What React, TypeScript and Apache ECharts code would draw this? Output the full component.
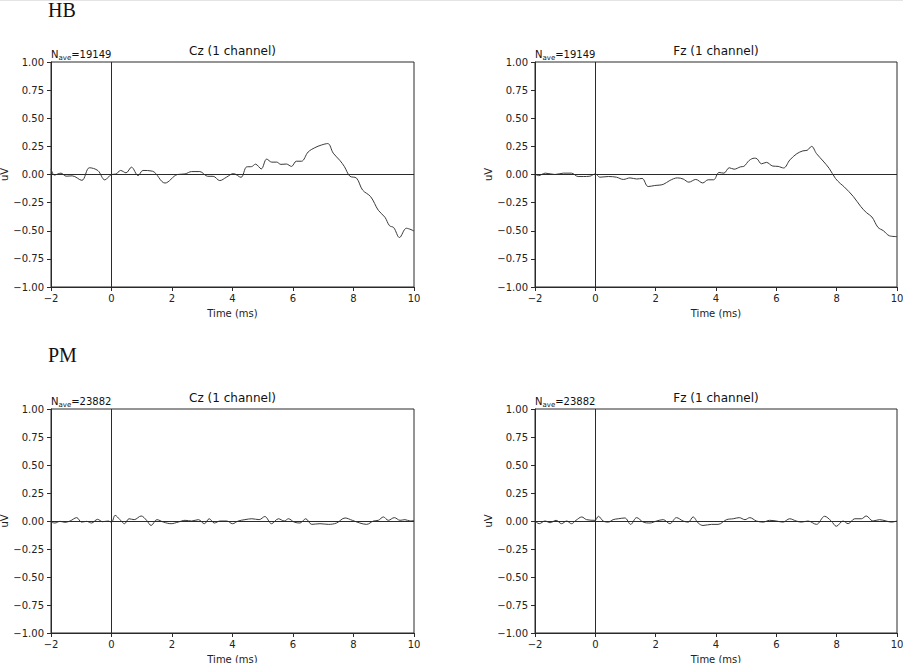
import React, { useEffect, useRef } from "react";
import * as echarts from "echarts";

const FONT = "DejaVu Sans";
const SERIF = "Liberation Serif";

const xMin = -2;
const xMax = 10;
const yMin = -1;
const yMax = 1;

const groupLabels = ["HB", "PM"];
const channelTitles = ["Cz (1 channel)", "Fz (1 channel)"];
const naveCounts = ["19149", "23882"];

const hbCz: [number, number][] = [
  [-2, 0.05], [-1.89, -0.005], [-1.67, 0.012], [-1.5, -0.015], [-1.3, -0.012], [-0.98, -0.052],
  [-0.73, 0.06], [-0.45, 0.035], [-0.22, -0.048], [0, 0.0], [0.15, 0.004], [0.3, 0.036],
  [0.48, 0.015], [0.66, 0.065], [0.88, -0.01], [1.04, 0.036], [1.35, 0.03], [1.77, -0.076],
  [2.18, 0.0], [2.43, 0.005], [2.65, 0.026], [2.92, 0.026], [3.18, -0.016], [3.36, -0.016],
  [3.58, -0.054], [3.8, -0.024], [4.03, 0.008], [4.28, -0.025], [4.47, 0.068], [4.63, 0.07],
  [4.76, 0.092], [4.95, 0.05], [5.13, 0.137], [5.3, 0.11], [5.46, 0.11], [5.6, 0.09],
  [5.78, 0.093], [5.95, 0.072], [6.11, 0.118], [6.28, 0.118], [6.5, 0.2], [6.72, 0.238],
  [6.94, 0.262], [7.15, 0.275], [7.33, 0.19], [7.55, 0.125], [7.7, 0.07], [7.88, -0.015],
  [8.1, -0.032], [8.3, -0.138], [8.57, -0.198], [8.82, -0.318], [9.04, -0.38], [9.19, -0.455],
  [9.33, -0.472], [9.52, -0.56], [9.75, -0.478], [10, -0.502],
];

const hbFz: [number, number][] = [
  [-2, 0.005], [-1.88, -0.01], [-1.66, 0.012], [-1.34, 0.0], [-1.06, 0.012], [-0.79, 0.012],
  [-0.57, -0.018], [-0.4, -0.018], [-0.18, -0.015], [0, 0.005], [0.15, -0.024], [0.43, -0.018],
  [0.7, -0.024], [0.93, -0.044], [1.15, -0.03], [1.37, -0.04], [1.55, -0.035], [1.75, -0.107],
  [1.97, -0.098], [2.25, -0.088], [2.47, -0.053], [2.72, -0.03], [2.91, -0.04], [3.1, -0.068],
  [3.33, -0.044], [3.56, -0.075], [3.74, -0.047], [3.92, -0.047], [4.1, 0.018], [4.26, 0.012],
  [4.44, 0.06], [4.6, 0.047], [4.81, 0.068], [4.92, 0.072], [5.1, 0.125], [5.27, 0.145],
  [5.36, 0.14], [5.51, 0.095], [5.67, 0.108], [5.88, 0.075], [6.06, 0.072], [6.24, 0.058],
  [6.45, 0.13], [6.68, 0.185], [6.88, 0.21], [7.02, 0.215], [7.17, 0.25], [7.33, 0.186],
  [7.55, 0.12], [7.75, 0.055], [7.96, -0.035], [8.12, -0.08], [8.25, -0.11], [8.55, -0.195],
  [8.8, -0.285], [8.99, -0.34], [9.17, -0.378], [9.37, -0.47], [9.55, -0.5], [9.75, -0.545],
  [10, -0.552],
];

const pmCz: [number, number][] = [
  [-2, -0.01], [-1.87, -0.018], [-1.7, -0.003], [-1.54, -0.012], [-1.37, 0.0], [-1.15, 0.03],
  [-0.99, -0.01], [-0.82, -0.003], [-0.66, -0.018], [-0.46, 0.015], [-0.3, -0.006], [-0.1, 0.0],
  [0, -0.012], [0.12, 0.05], [0.28, 0.012], [0.43, -0.024], [0.58, 0.02], [0.75, 0.012],
  [0.98, 0.045], [1.16, 0.006], [1.31, -0.04], [1.5, 0.012], [1.72, -0.01], [1.97, -0.024],
  [2.2, -0.01], [2.43, 0.006], [2.65, 0.0], [2.87, 0.012], [3.07, -0.024], [3.23, 0.02],
  [3.4, -0.018], [3.59, 0.0], [3.81, 0.0], [4.0, -0.024], [4.19, 0.0], [4.41, 0.012],
  [4.64, 0.02], [4.88, 0.012], [5.07, 0.04], [5.29, -0.024], [5.52, 0.02], [5.71, 0.0],
  [5.85, 0.02], [6.04, -0.01], [6.23, -0.018], [6.42, 0.02], [6.62, -0.03], [6.89, -0.024],
  [7.17, -0.03], [7.44, -0.018], [7.72, 0.027], [7.96, 0.006], [8.21, -0.018], [8.43, -0.03],
  [8.66, 0.0], [8.82, 0.006], [8.99, 0.036], [9.15, 0.006], [9.35, 0.03], [9.54, 0.006],
  [9.7, 0.012], [9.87, 0.0], [10, 0.006],
];

const pmFz: [number, number][] = [
  [-2, 0.0], [-1.86, -0.024], [-1.67, 0.0], [-1.5, -0.015], [-1.3, 0.006], [-1.12, -0.024],
  [-0.95, 0.0], [-0.79, -0.024], [-0.64, 0.006], [-0.45, 0.036], [-0.29, 0.012], [-0.01, 0.006],
  [0.1, 0.042], [0.26, 0.0], [0.43, -0.01], [0.59, 0.012], [0.76, 0.02], [0.98, 0.027],
  [1.17, -0.03], [1.37, 0.03], [1.59, -0.01], [1.81, -0.018], [2.03, 0.0], [2.25, 0.012],
  [2.47, -0.024], [2.69, 0.03], [2.91, 0.0], [3.08, -0.01], [3.24, 0.036], [3.41, -0.018],
  [3.57, -0.04], [3.85, -0.03], [4.07, -0.03], [4.35, 0.012], [4.57, 0.02], [4.77, 0.03],
  [4.96, 0.012], [5.12, 0.03], [5.34, 0.0], [5.56, -0.01], [5.78, 0.006], [6.0, 0.0],
  [6.22, -0.01], [6.44, 0.02], [6.66, 0.0], [6.83, -0.01], [7.05, 0.0], [7.33, -0.03],
  [7.6, 0.042], [7.82, 0.0], [7.99, -0.047], [8.21, 0.0], [8.38, -0.024], [8.6, 0.02],
  [8.82, 0.02], [8.98, 0.045], [9.2, 0.0], [9.42, 0.012], [9.64, 0.0], [9.81, -0.01],
  [10, 0.0],
];

const panelData = [hbCz, hbFz, pmCz, pmFz];

const fmtNum = (v: number, d: number) => v.toFixed(d).replace("-", "\u2212");

export default function App() {
  const ref = useRef<HTMLDivElement>(null);
  useEffect(() => {
    const chart = echarts.init(ref.current!, null, { renderer: "svg" });
    const cols = [
      { left: 51, width: 363 },
      { left: 535, width: 362 },
    ];
    const rows = [
      { top: 62, height: 225 },
      { top: 409, height: 224 },
    ];
    const grids: any[] = [];
    const xAxes: any[] = [];
    const yAxes: any[] = [];
    const series: any[] = [];
    const graphics: any[] = [];
    const ink = "#2a2a2a";

    graphics.push({
      type: "line",
      shape: { x1: 0, y1: 0.5, x2: 903, y2: 0.5 },
      style: { stroke: "#e4e4e4", lineWidth: 1 },
      silent: true,
    });

    rows.forEach((r, ri) => {
      graphics.push({
        type: "text",
        x: 48,
        y: ri === 0 ? 10 : 355,
        style: {
          text: groupLabels[ri],
          font: `20px "${SERIF}"`,
          fill: "#111",
          textAlign: "left",
          textVerticalAlign: "middle",
        },
        silent: true,
      });
      cols.forEach((c, ci) => {
        const idx = ri * 2 + ci;
        grids.push({
          left: c.left,
          top: r.top,
          width: c.width,
          height: r.height,
          containLabel: false,
          outerBoundsMode: "none",
          show: true,
          borderColor: ink,
          borderWidth: 1,
          backgroundColor: "transparent",
        });
        xAxes.push({
          type: "value",
          gridIndex: idx,
          min: xMin,
          max: xMax,
          interval: 2,
          name: "Time (ms)",
          nameLocation: "middle",
          nameGap: 21,
          nameTextStyle: { fontFamily: FONT, fontSize: 10, color: "#222" },
          axisLine: { show: true, onZero: false, lineStyle: { color: ink, width: 1 } },
          axisTick: { show: true, inside: false, length: 4, lineStyle: { color: ink } },
          axisLabel: {
            fontFamily: FONT,
            fontSize: 10,
            color: "#222",
            margin: 6,
            formatter: (v: number) => fmtNum(v, 0),
          },
          splitLine: { show: false },
        });
        yAxes.push({
          type: "value",
          gridIndex: idx,
          min: yMin,
          max: yMax,
          interval: 0.25,
          name: "uV",
          nameLocation: "middle",
          nameGap: 39,
          nameRotate: 90,
          nameTextStyle: { fontFamily: FONT, fontSize: 10, color: "#222" },
          axisLine: { show: true, onZero: false, lineStyle: { color: ink, width: 1 } },
          axisTick: { show: true, inside: false, length: 4, lineStyle: { color: ink } },
          axisLabel: {
            fontFamily: FONT,
            fontSize: 10,
            color: "#222",
            margin: 7,
            formatter: (v: number) => fmtNum(v, 2),
          },
          splitLine: { show: false },
        });
        series.push({
          type: "line",
          xAxisIndex: idx,
          yAxisIndex: idx,
          data: panelData[idx],
          showSymbol: false,
          symbol: "none",
          smooth: 0.35,
          lineStyle: { color: "#3a3a3a", width: 1 },
          silent: true,
          markLine: {
            silent: true,
            symbol: ["none", "none"],
            label: { show: false },
            lineStyle: { color: ink, width: 1, type: "solid" },
            data: [{ yAxis: 0 }, { xAxis: 0 }],
          },
        });
        graphics.push({
          type: "text",
          x: c.left + c.width / 2,
          y: r.top - 11,
          style: {
            text: channelTitles[ci],
            font: `12px "${FONT}"`,
            fill: "#111",
            textAlign: "center",
            textVerticalAlign: "middle",
          },
          silent: true,
        });
        graphics.push({
          type: "text",
          x: c.left,
          y: r.top - 8,
          style: {
            text: `{a|N}{b|ave}{a|=${naveCounts[ri]}}`,
            textAlign: "left",
            textVerticalAlign: "middle",
            rich: {
              a: { fontFamily: FONT, fontSize: 10, fill: "#111", lineHeight: 14, verticalAlign: "middle" },
              b: { fontFamily: FONT, fontSize: 7, fill: "#111", lineHeight: 7, verticalAlign: "bottom" },
            },
          },
          silent: true,
        });
      });
    });

    chart.setOption({
      animation: false,
      backgroundColor: "#ffffff",
      grid: grids,
      xAxis: xAxes,
      yAxis: yAxes,
      series,
      graphic: graphics,
    });
    return () => chart.dispose();
  }, []);
  return (
    <div
      ref={ref}
      style={{ position: "absolute", left: 0, top: 0, width: 903, height: 663 }}
    />
  );
}
